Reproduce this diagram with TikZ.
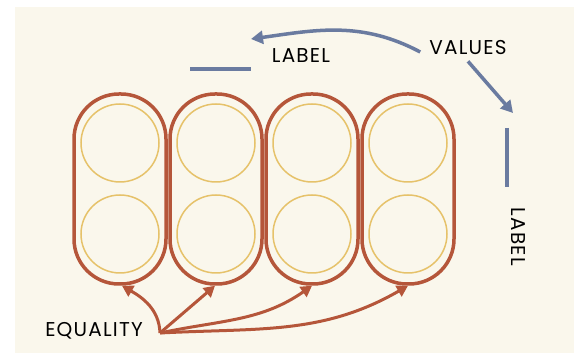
\documentclass[tikz,border=0pt]{standalone}
\usepackage{fontspec}
\setmainfont[LetterSpace=6]{Poppins}
\usepackage{tikz}
\usetikzlibrary{arrows.meta,backgrounds,calc}
\usetikzlibrary{positioning, shapes.geometric}
\definecolor{rust}{RGB}{181,86,58}
\definecolor{mustard}{RGB}{230,194,106}
\definecolor{slate}{RGB}{106,123,160}
\definecolor{cream}{RGB}{250,247,236}
\tikzset{
  capsule/.style={ draw=rust, line width=3.5pt, rectangle, rounded corners=45pt, minimum width=92pt, minimum height=190pt }
}
\tikzset{
  slot/.style={ draw=mustard, line width=1.5pt, circle, minimum size=78pt }
}
\tikzset{
  caption/.style={ font=\fontsize{20}{20}\selectfont, text=black, inner sep=0pt }
}
\tikzset{
  eqarrow/.style={ draw=rust, line width=3pt, -{Triangle[length=11pt, width=12pt]} }
}
\tikzset{
  valarrow/.style={ draw=slate, line width=3.5pt, -{Triangle[length=12pt, width=13pt]} }
}
\tikzset{
  mark line/.style={ draw=slate, line width=3.5pt }
}

\begin{document}
\begin{tikzpicture}[y=1pt, x=1pt]
      \useasboundingbox (0, 0) rectangle (579, 355);
      \fill[cream] (15, 2) rectangle (574, 348);

      % pairs
      \foreach \i/\x in {1/120, 2/216, 3/312, 4/408} {
        \node[capsule] (c\i) at (\x, 166) {};
        \node[slot] (t\i) at (\x, 212) {};
        \node[slot] (b\i) at (\x, 121) {};
      }

      % labels
      \node[caption] (values) at (468, 307) {VALUES};
      \node[caption] (toplabel) at (301, 299) {LABEL};
      \node[caption, rotate=-90] (sidelabel) at (518, 118) {LABEL};
      \node[caption] (equality) at (94, 24) {EQUALITY};

      \coordinate (topa) at (190, 286);
      \coordinate (topb) at (251, 286);
      \draw[mark line] (topa) -- (topb);
      \coordinate (sidea) at (507, 227);
      \coordinate (sideb) at (507, 168);
      \draw[mark line] (sidea) -- (sideb);

      \coordinate (toptip) at (251, 316);
      \coordinate (sidetip) at (513, 242);
      \draw[valarrow] ([xshift=-9pt, yshift=-4pt]values.west) to[out=152, in=8] (toptip);
      \draw[valarrow] ([yshift=-6pt]values.south) -- (sidetip);

      % equality arrows
      \coordinate (src) at (160, 22);
      \draw[eqarrow] (src) to[out=92, in=-30] ([xshift=2pt]c1.south);
      \draw[eqarrow] (src) -- ([xshift=-1pt]c2.south);
      \draw[eqarrow] (src) to[out=12, in=-145] (c3.south);
      \draw[eqarrow] (src) to[out=3, in=-150] (c4.south);
    \end{tikzpicture}
\end{document}
